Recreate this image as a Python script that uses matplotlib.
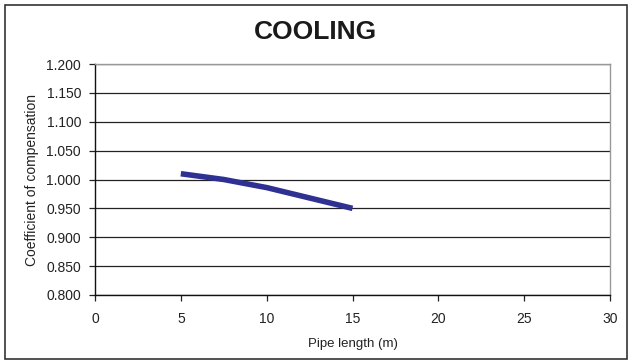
import matplotlib
matplotlib.use("Agg")
import matplotlib.pyplot as plt
from matplotlib.patches import Rectangle

plt.rcParams['font.family'] = ['Liberation Sans', 'DejaVu Sans']

pipe_length = [5, 7.5, 10, 15]
coefficient = [1.010, 1.000, 0.986, 0.950]
x_ticks = [0, 5, 10, 15, 20, 25, 30]
y_ticks = [0.800, 0.850, 0.900, 0.950, 1.000, 1.050, 1.100, 1.150, 1.200]

fig = plt.figure(figsize=(6.3, 3.62), dpi=100)
ax = fig.add_axes([95/630, 1 - 295/362, (610-95)/630, (295-64)/362])

ax.plot(pipe_length, coefficient, color='#2e3192', linewidth=4, solid_capstyle='butt', zorder=3)

ax.set_xlim(0, 30)
ax.set_ylim(0.8, 1.2)
ax.set_xticks(x_ticks)
ax.set_yticks(y_ticks)
ax.set_yticklabels([f"{v:.3f}" for v in y_ticks])
ax.grid(axis='y', color='#222222', linewidth=0.9)
ax.tick_params(axis='both', labelsize=10, color='#222222', length=4, width=0.9, labelcolor='#222222')
ax.tick_params(axis='y', pad=6)
ax.tick_params(axis='x', pad=8)
for s in ['left', 'bottom']:
    ax.spines[s].set_color('#111111')
    ax.spines[s].set_linewidth(1.0)
for s in ['top', 'right']:
    ax.spines[s].set_color('#999999')
    ax.spines[s].set_linewidth(1.0)

ax.set_xlabel('Pipe length (m)', fontsize=9.5, labelpad=9, color='#222222')
ax.set_ylabel('Coefficient of compensation', fontsize=10, labelpad=5, color='#222222')
fig.text(0.5, 1 - 32/362, 'COOLING', ha='center', va='center', fontsize=19, fontweight='bold', color='#1a1a1a')

fig.patches.append(Rectangle((5/630, 3/362), 622/630, 354/362, transform=fig.transFigure,
                             fill=False, edgecolor='#333333', linewidth=1.2))

fig.savefig('out.png', dpi=100)
